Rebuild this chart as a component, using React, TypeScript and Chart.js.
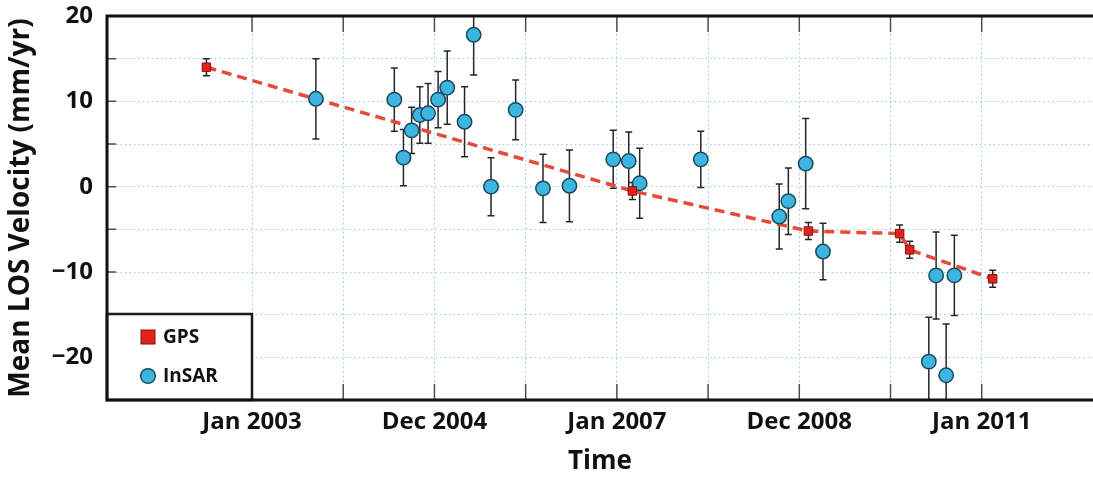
import React, { useEffect, useRef } from 'react';
import { Chart, registerables } from 'chart.js';

Chart.register(...registerables);

// ---- Data (decimal years, mm/yr) ----
const gpsTime = [2002.5, 2007.17, 2009.1, 2010.1, 2010.21, 2011.12];
const gpsVelocity = [14.0, -0.5, -5.2, -5.5, -7.4, -10.8];
const gpsError = [1.0, 1.0, 1.0, 1.0, 1.0, 1.0];

const insarTime = [
  2003.7, 2004.56, 2004.66, 2004.75, 2004.84, 2004.93, 2005.04, 2005.14, 2005.33,
  2005.43, 2005.62, 2005.89, 2006.19, 2006.48, 2006.96, 2007.13, 2007.25, 2007.92,
  2008.78, 2008.88, 2009.07, 2009.26, 2010.42, 2010.5, 2010.61, 2010.7,
];
const insarVelocity = [
  10.3, 10.2, 3.4, 6.6, 8.4, 8.6, 10.2, 11.6, 7.6, 17.8, 0.0, 9.0, -0.2, 0.1, 3.2,
  3.0, 0.4, 3.2, -3.5, -1.7, 2.7, -7.6, -20.5, -10.4, -22.1, -10.4,
];
const insarError = [
  4.7, 3.7, 3.3, 2.7, 3.3, 3.5, 3.3, 4.3, 4.1, 4.7, 3.4, 3.5, 4.0, 4.2, 3.4, 3.4,
  4.1, 3.3, 3.8, 3.9, 5.3, 3.3, 5.2, 5.1, 6.0, 4.7,
];

const xTickYears = [2003, 2004, 2005, 2006, 2007, 2008, 2009, 2010, 2011];
const xTickLabels = ['Jan 2003', '', 'Dec 2004', '', 'Jan 2007', '', 'Dec 2008', '', 'Jan 2011'];
const yTickValues = [-25, -20, -15, -10, -5, 0, 5, 10, 15, 20];
const yTickLabels = ['', '\u221220', '', '\u221210', '', '0', '', '10', '', '20'];

const X_MIN = 2001.41;
const X_MAX = 2012.22;
const Y_MIN = -25;
const Y_MAX = 20;

const FONT = "'Open Sans', 'DejaVu Sans', sans-serif";
const INSAR_FILL = '#3cb6e0';
const INSAR_EDGE = '#1b4a5e';
const GPS_FILL = '#e3221c';
const GPS_EDGE = '#7a1812';
const GPS_LINE = '#e54a3a';
const GRID = 'rgba(110,185,225,0.75)';

const errorBarPlugin = {
  id: 'errorBars',
  beforeDatasetsDraw(chart: any) {
    const { ctx, chartArea, scales } = chart;
    const xs = scales.x;
    const ys = scales.y;
    ctx.save();
    ctx.beginPath();
    ctx.rect(chartArea.left, chartArea.top, chartArea.right - chartArea.left, chartArea.bottom - chartArea.top);
    ctx.clip();
    ctx.strokeStyle = '#262626';
    ctx.lineWidth = 1.5;
    chart.data.datasets.forEach((ds: any) => {
      const errs = ds.errors;
      if (!errs) return;
      ds.data.forEach((p: any, i: number) => {
        const px = xs.getPixelForValue(p.x);
        const top = ys.getPixelForValue(p.y + errs[i]);
        const bot = ys.getPixelForValue(p.y - errs[i]);
        ctx.beginPath();
        ctx.moveTo(px, top);
        ctx.lineTo(px, bot);
        ctx.moveTo(px - 3.5, top);
        ctx.lineTo(px + 3.5, top);
        ctx.moveTo(px - 3.5, bot);
        ctx.lineTo(px + 3.5, bot);
        ctx.stroke();
      });
    });
    ctx.restore();
  },
};

const framePlugin = {
  id: 'frame',
  afterDraw(chart: any) {
    const { ctx, chartArea, scales } = chart;
    const xs = scales.x;
    const ys = scales.y;
    const { left, top, right, bottom } = chartArea;
    ctx.save();
    // inward ticks
    ctx.strokeStyle = '#4a4f55';
    ctx.lineWidth = 1.5;
    ctx.beginPath();
    xTickYears.forEach((v) => {
      const px = xs.getPixelForValue(v);
      ctx.moveTo(px, bottom);
      ctx.lineTo(px, bottom - 16);
      ctx.moveTo(px, top);
      ctx.lineTo(px, top + 16);
    });
    yTickValues.forEach((v) => {
      const py = ys.getPixelForValue(v);
      ctx.moveTo(left, py);
      ctx.lineTo(left + 9, py);
    });
    ctx.stroke();

    // legend box (bottom-left inside plot)
    const lx = left;
    const ly = 314;
    const lw = 145;
    const lh = bottom - ly;
    ctx.fillStyle = '#ffffff';
    ctx.fillRect(lx, ly, lw, lh);
    ctx.strokeStyle = '#1a1a1a';
    ctx.lineWidth = 2.5;
    ctx.strokeRect(lx, ly, lw, lh);

    ctx.fillStyle = GPS_FILL;
    ctx.fillRect(lx + 34, 330, 14, 14);
    ctx.strokeStyle = GPS_EDGE;
    ctx.lineWidth = 1;
    ctx.strokeRect(lx + 34, 330, 14, 14);

    ctx.beginPath();
    ctx.arc(lx + 41, 376, 7.3, 0, Math.PI * 2);
    ctx.fillStyle = INSAR_FILL;
    ctx.fill();
    ctx.strokeStyle = INSAR_EDGE;
    ctx.lineWidth = 1.5;
    ctx.stroke();

    ctx.fillStyle = '#111';
    ctx.font = `bold 19px ${FONT}`;
    ctx.textBaseline = 'middle';
    ctx.textAlign = 'left';
    ctx.fillText('GPS', lx + 56, 338);
    ctx.fillText('InSAR', lx + 56, 377);

    // axes frame
    ctx.strokeStyle = '#111';
    ctx.lineWidth = 3;
    ctx.beginPath();
    ctx.moveTo(left, top);
    ctx.lineTo(right + 2, top);
    ctx.moveTo(left, top - 1.5);
    ctx.lineTo(left, bottom + 1.5);
    ctx.moveTo(left, bottom);
    ctx.lineTo(right + 2, bottom);
    ctx.stroke();
    ctx.restore();
  },
};

export default function App() {
  const canvasRef = useRef<HTMLCanvasElement | null>(null);

  useEffect(() => {
    if (!canvasRef.current) return;
    const gpsPoints = gpsTime.map((t, i) => ({ x: t, y: gpsVelocity[i] }));
    const insarPoints = insarTime.map((t, i) => ({ x: t, y: insarVelocity[i] }));

    const chart = new Chart(canvasRef.current, {
      type: 'scatter',
      data: {
        datasets: [
          {
            label: 'GPS',
            data: gpsPoints,
            errors: gpsError,
            pointStyle: 'rect',
            pointRadius: 6,
            backgroundColor: GPS_FILL,
            borderColor: GPS_EDGE,
            borderWidth: 1,
            order: 0,
          } as any,
          {
            label: 'InSAR',
            data: insarPoints,
            errors: insarError,
            pointStyle: 'circle',
            pointRadius: 7.2,
            backgroundColor: INSAR_FILL,
            borderColor: INSAR_EDGE,
            borderWidth: 1.5,
            order: 1,
          } as any,
          {
            label: 'GPS trend',
            data: gpsPoints,
            showLine: true,
            pointRadius: 0,
            borderColor: GPS_LINE,
            borderWidth: 3.5,
            borderDash: [10, 6],
            tension: 0,
            order: 2,
          } as any,
        ],
      },
      options: {
        responsive: false,
        animation: false,
        layout: { autoPadding: false, padding: { top: 16, left: 0, right: 0, bottom: 0 } },
        plugins: {
          legend: { display: false },
          tooltip: { enabled: false },
        },
        scales: {
          x: {
            type: 'linear',
            min: X_MIN,
            max: X_MAX,
            afterBuildTicks: (s: any) => {
              s.ticks = xTickYears.map((v) => ({ value: v }));
            },
            afterFit: (s: any) => {
              s.height = 77;
              s.paddingLeft = 0;
              s.paddingRight = 0;
            },
            grid: { color: GRID, lineWidth: 1, drawTicks: false },
            border: { display: false, dash: [1.5, 3] },
            ticks: {
              autoSkip: false,
              maxRotation: 0,
              padding: 8,
              color: '#111',
              font: { family: FONT, size: 24, weight: 'bold' },
              callback: (v: any) => {
                const i = xTickYears.indexOf(Number(v));
                return i >= 0 ? xTickLabels[i] : '';
              },
            },
            title: {
              display: true,
              text: 'Time',
              color: '#111',
              font: { family: FONT, size: 26, weight: 'bold' },
              padding: { top: 0, bottom: 0 },
            },
          },
          y: {
            type: 'linear',
            min: Y_MIN,
            max: Y_MAX,
            afterBuildTicks: (s: any) => {
              s.ticks = yTickValues.map((v) => ({ value: v }));
            },
            afterFit: (s: any) => {
              s.width = 107;
              s.paddingTop = 0;
              s.paddingBottom = 0;
            },
            grid: { color: GRID, lineWidth: 1, drawTicks: false },
            border: { display: false, dash: [1.5, 3] },
            ticks: {
              autoSkip: false,
              padding: 14,
              color: '#111',
              font: { family: FONT, size: 24, weight: 'bold' },
              callback: (v: any) => {
                const i = yTickValues.indexOf(Number(v));
                return i >= 0 ? yTickLabels[i] : '';
              },
            },
            title: {
              display: true,
              text: 'Mean LOS Velocity (mm/yr)',
              color: '#111',
              font: { family: FONT, size: 28, weight: 'bold' },
              padding: { top: 4, bottom: 0 },
            },
          },
        },
      } as any,
      plugins: [errorBarPlugin, framePlugin],
    });

    if ((document as any).fonts && (document as any).fonts.load) {
      (document as any).fonts.load(`bold 24px 'Open Sans'`).then(() => chart.update()).catch(() => {});
    }

    return () => {
      chart.destroy();
    };
  }, []);

  return (
    <div style={{ position: 'absolute', left: 0, top: 0, width: 1093, height: 477, background: '#fff' }}>
      <canvas ref={canvasRef} width={1093} height={477} style={{ display: 'block' }} />
    </div>
  );
}
